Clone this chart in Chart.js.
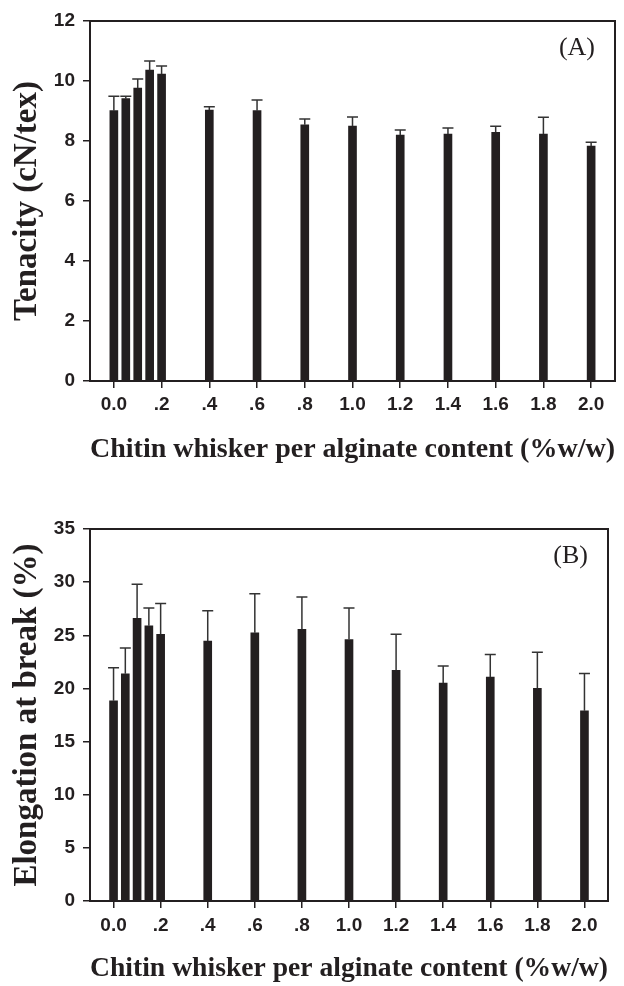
<!DOCTYPE html>
<html>
<head>
<meta charset="utf-8">
<script src="https://cdn.jsdelivr.net/npm/chart.js@4.4.1/dist/chart.umd.min.js"></script>
<style>
  body { margin: 0; background: #ffffff; }
  .panel { position: absolute; left: 0; width: 624px; }
  #panelA { top: 0; height: 475px; }
  #panelB { top: 475px; height: 511px; }
</style>
</head>
<body>
<div class="panel" id="panelA"><canvas id="tenacityChart"></canvas></div>
<div class="panel" id="panelB"><canvas id="elongationChart"></canvas></div>
<script>
// chitin whisker content (%w/w) for each bar
const contents = [0, 0.05, 0.1, 0.15, 0.2, 0.4, 0.6, 0.8, 1.0, 1.2, 1.4, 1.6, 1.8, 2.0];

// (A) tenacity, cN/tex, with upper error
const tenacity = [9.01, 9.41, 9.76, 10.36, 10.23, 9.03, 9.01, 8.54, 8.5, 8.2, 8.23, 8.29, 8.23, 7.83];
const tenacityErr = [0.48, 0.08, 0.31, 0.31, 0.27, 0.11, 0.36, 0.19, 0.30, 0.17, 0.20, 0.20, 0.56, 0.13];

// (B) elongation at break, %, with upper error
const elongation = [18.84, 21.38, 26.6, 25.9, 25.1, 24.46, 25.24, 25.55, 24.6, 21.7, 20.5, 21.07, 20.0, 17.9];
const elongationErr = [3.11, 2.42, 3.2, 1.66, 2.9, 2.84, 3.66, 3.05, 2.96, 3.4, 1.6, 2.13, 3.4, 3.5];

// x axis ticks
const xTickValues = [0, 0.2, 0.4, 0.6, 0.8, 1.0, 1.2, 1.4, 1.6, 1.8, 2.0];
const xTickLabels = ["0.0", ".2", ".4", ".6", ".8", "1.0", "1.2", "1.4", "1.6", "1.8", "2.0"];

const xTitle = "Chitin whisker per alginate content (%w/w)";
const ink = '#231f20';

// draws the frame, the upper error bars and the panel letter
const extrasPlugin = {
  id: 'extras',
  afterDatasetsDraw(chart, args, opts) {
    const ctx = chart.ctx;
    const xs = chart.scales.x, ys = chart.scales.y;
    const data = chart.data.datasets[0].data;
    ctx.save();
    ctx.strokeStyle = '#333333';
    ctx.lineWidth = 1.5;
    data.forEach((p, i) => {
      const x = xs.getPixelForValue(p.x);
      const y0 = ys.getPixelForValue(p.y);
      const y1 = ys.getPixelForValue(p.y + opts.errors[i]);
      ctx.beginPath();
      ctx.moveTo(x, y0);
      ctx.lineTo(x, y1);
      ctx.moveTo(x - 5.5, y1);
      ctx.lineTo(x + 5.5, y1);
      ctx.stroke();
    });
    const a = chart.chartArea;
    ctx.strokeStyle = ink;
    ctx.lineWidth = 2;
    ctx.strokeRect(a.left, a.top, a.right - a.left, a.bottom - a.top);
    ctx.fillStyle = ink;
    ctx.font = '26px "Liberation Serif", "Times New Roman", serif';
    ctx.textAlign = 'right';
    ctx.textBaseline = 'middle';
    ctx.fillText(opts.letter, a.right - 20, a.top + 27);
    ctx.restore();
  }
};

function makeChart(canvasId, values, errors, yMax, yStep, yTitle, letter, layout) {
  const ctx = document.getElementById(canvasId).getContext('2d');
  return new Chart(ctx, {
    type: 'bar',
    data: {
      datasets: [{
        data: contents.map((c, i) => ({ x: c, y: values[i] })),
        backgroundColor: ink,
        borderWidth: 0,
        barThickness: 8
      }]
    },
    options: {
      responsive: true,
      maintainAspectRatio: false,
      animation: false,
      layout: { padding: { top: layout.top, right: layout.right, left: 0, bottom: 0 } },
      plugins: {
        legend: { display: false },
        tooltip: { enabled: false },
        extras: { errors: errors, letter: letter }
      },
      scales: {
        x: {
          type: 'linear',
          min: -0.1,
          max: 2.1,
          offset: false,
          afterBuildTicks: s => { s.ticks = xTickValues.map(v => ({ value: v })); },
          afterFit: s => { s.height = layout.xHeight; },
          grid: { offset: false, drawOnChartArea: false, drawTicks: true, tickLength: 7, color: ink, lineWidth: 1.5 },
          border: { display: true, color: ink, width: 2 },
          ticks: {
            color: ink,
            padding: layout.xTickPad,
            maxRotation: 0,
            autoSkip: false,
            font: { family: '"Liberation Sans", Arial, sans-serif', size: 19, weight: 'bold' },
            callback: (v, i) => xTickLabels[i]
          },
          title: {
            display: true,
            text: xTitle,
            color: ink,
            padding: { top: 0, bottom: layout.xTitlePad },
            font: { family: '"Liberation Serif", "Times New Roman", serif', size: 28, weight: 'bold', lineHeight: 1 }
          }
        },
        y: {
          min: 0,
          max: yMax,
          afterFit: s => { s.width = 90; },
          grid: { drawOnChartArea: false, drawTicks: true, tickLength: 7, color: ink, lineWidth: 1.5 },
          border: { display: true, color: ink, width: 2 },
          ticks: {
            stepSize: yStep,
            color: ink,
            padding: 8,
            font: { family: '"Liberation Sans", Arial, sans-serif', size: 19, weight: 'bold' }
          },
          title: {
            display: true,
            text: yTitle,
            color: ink,
            padding: { top: 11, bottom: 0 },
            font: { family: '"Liberation Serif", "Times New Roman", serif', size: 33, weight: 'bold', lineHeight: 1 }
          }
        }
      }
    },
    plugins: [extrasPlugin]
  });
}

makeChart('tenacityChart', tenacity, tenacityErr, 12, 2, 'Tenacity (cN/tex)', '(A)',
  { top: 21, right: 9, xHeight: 94, xTickPad: 5, xTitlePad: 11 });
makeChart('elongationChart', elongation, elongationErr, 35, 5, 'Elongation at break (%)', '(B)',
  { top: 54, right: 16, xHeight: 85, xTickPad: 6, xTitlePad: 3 });
</script>
</body>
</html>
